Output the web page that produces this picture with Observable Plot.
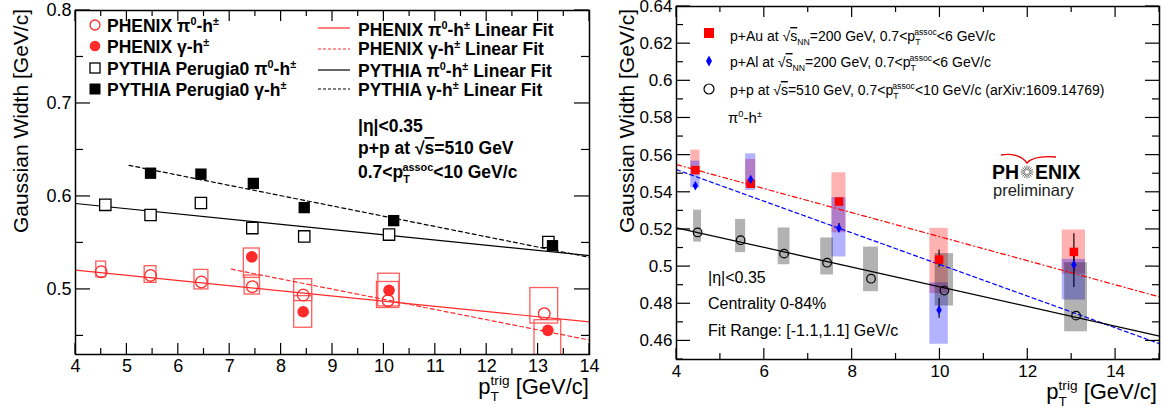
<!DOCTYPE html>
<html><head><meta charset="utf-8">
<script src="https://cdn.jsdelivr.net/npm/d3@7"></script>
<script src="https://cdn.jsdelivr.net/npm/@observablehq/plot@0.6"></script>
<style>
body{margin:0;background:#fff}
#wrap{position:relative;width:1164px;height:408px;overflow:hidden;background:#fff}
#wrap svg{position:absolute;top:0}
</style></head><body><div id="wrap"></div>
<script>
// ---------------- LEFT PANEL DATA ----------------
const pythiaGammaX = [5.46, 6.44, 7.46, 8.45, 10.19, 13.28];
const pythiaGammaY = [0.625, 0.624, 0.614, 0.588, 0.574, 0.547];
const pythiaPi0X = [4.58, 5.46, 6.44, 7.44, 8.45, 10.10, 13.20];
const pythiaPi0Y = [0.591, 0.580, 0.593, 0.566, 0.557, 0.559, 0.551];
const pythiaPi0ErrLo = [0.589, 0.578, 0.591, 0.564, 0.555, 0.557, 0.546];
const pythiaPi0ErrHi = [0.593, 0.582, 0.595, 0.568, 0.559, 0.561, 0.556];
const phenixPi0X = [4.50, 5.46, 6.45, 7.44, 8.43, 10.08, 13.12];
const phenixPi0Y = [0.519, 0.515, 0.508, 0.503, 0.494, 0.488, 0.474];
const phenixPi0SysLo = [0.513, 0.507, 0.500, 0.4945, 0.4874, 0.480, 0.4633];
const phenixPi0SysHi = [0.530, 0.525, 0.521, 0.515, 0.511, 0.508, 0.5015];
const phenixPi0BinHalf = [0.095, 0.115, 0.135, 0.15, 0.175, 0.215, 0.27];
const phenixGammaX = [7.43, 8.43, 10.10, 13.19];
const phenixGammaY = [0.535, 0.476, 0.499, 0.456];
const phenixGammaSysLo = [0.5124, 0.4588, 0.4817, 0.425];
const phenixGammaSysHi = [0.5440, 0.4928, 0.5169, 0.4669];
const phenixGammaBinHalf = [0.155, 0.175, 0.21, 0.26];
// linear fits (end points)
const fitPhenixPi0X = [4, 14], fitPhenixPi0Y = [0.5207, 0.465];
const fitPhenixGammaX = [7.03, 14], fitPhenixGammaY = [0.5218, 0.4455];
const fitPythiaPi0X = [4, 14], fitPythiaPi0Y = [0.5924, 0.5364];
const fitPythiaGammaX = [5.04, 14], fitPythiaGammaY = [0.6335, 0.5345];
const leftXTicks = [4, 5, 6, 7, 8, 9, 10, 11, 12, 13, 14];
const leftXMinor = [4.5, 5.5, 6.5, 7.5, 8.5, 9.5, 10.5, 11.5, 12.5, 13.5];
const leftYTicks = [0.5, 0.6, 0.7, 0.8];
const leftYMinor = [0.45, 0.55, 0.65, 0.75];

// ---------------- RIGHT PANEL DATA ----------------
const pAuX = [4.43, 5.69, 7.70, 9.98, 13.05];
const pAuY = [0.5519, 0.5446, 0.5350, 0.5038, 0.5079];
const pAuErrLo = [0.5505, 0.5432, 0.5335, 0.4995, 0.4980];
const pAuErrHi = [0.5533, 0.5460, 0.5365, 0.5089, 0.5177];
const pAuSysLo = [0.5496, 0.5424, 0.5182, 0.4855, 0.4960];
const pAuSysHi = [0.5627, 0.5577, 0.5505, 0.5206, 0.5197];
const pAuBinHalf = [0.105, 0.115, 0.16, 0.21, 0.265];
const pAlX = [4.43, 5.69, 7.70, 9.98, 13.05];
const pAlY = [0.5435, 0.5469, 0.5206, 0.4766, 0.5010];
const pAlErrLo = [0.5422, 0.5456, 0.5186, 0.4722, 0.4887];
const pAlErrHi = [0.5448, 0.5482, 0.5232, 0.4829, 0.5085];
const pAlSysLo = [0.5424, 0.5410, 0.5052, 0.4582, 0.4820];
const pAlSysHi = [0.5568, 0.5607, 0.5371, 0.4913, 0.5039];
const pAlBinHalf = [0.105, 0.115, 0.16, 0.21, 0.265];
const ppX = [4.48, 5.46, 6.45, 7.43, 8.43, 10.10, 13.10];
const ppY = [0.5184, 0.5142, 0.5070, 0.5021, 0.4935, 0.4871, 0.4736];
const ppSysLo = [0.5132, 0.5075, 0.5010, 0.4955, 0.4865, 0.4788, 0.4649];
const ppSysHi = [0.5304, 0.5254, 0.5208, 0.5154, 0.5105, 0.5070, 0.5021];
const ppBinHalf = [0.09, 0.115, 0.135, 0.145, 0.17, 0.21, 0.26];
const fitPAuX = [4, 15], fitPAuY = [0.5549, 0.4837];
const fitPAlX = [4, 15], fitPAlY = [0.5522, 0.4585];
const fitPPX = [4, 15], fitPPY = [0.5209, 0.4626];
const rightXTicks = [4, 6, 8, 10, 12, 14];
const rightXMinor = [5, 7, 9, 11, 13, 15];
const rightYTicks = [0.46, 0.48, 0.5, 0.52, 0.54, 0.56, 0.58, 0.6, 0.62, 0.64];
const rightYMinor = [0.45, 0.47, 0.49, 0.51, 0.53, 0.55, 0.57, 0.59, 0.61, 0.63];

// ---------------- helpers ----------------
const FONT = "Liberation Sans, Arial, Helvetica, sans-serif";
const zip = (xs, ys, extra = {}) => xs.map((x, i) => {
  const o = {x, y: ys[i]};
  for (const k in extra) o[k] = extra[k][i];
  return o;
});
function frameTicks(chart, xMaj, xMin, yMaj, yMin, L) {
  const sx = chart.scale("x"), sy = chart.scale("y");
  const [xl, xr] = sx.range, [yb, yt] = sy.range;
  const g = d3.select(chart).append("g").attr("stroke", "black").attr("stroke-width", 1.2);
  const seg = (a, b, c, d) => g.append("line").attr("x1", a).attr("y1", b).attr("x2", c).attr("y2", d);
  for (const [vals, len] of [[xMaj, L.xMaj], [xMin, L.xMin]])
    for (const v of vals) { const p = sx.apply(v); seg(p, yb, p, yb - len); seg(p, yt, p, yt + len); }
  for (const [vals, len] of [[yMaj, L.yMaj], [yMin, L.yMin]])
    for (const v of vals) { const p = sy.apply(v); seg(xl, p, xl + len, p); seg(xr, p, xr - len, p); }
}
function rich(parent, x, y, parts, opts = {}) {
  const size = opts.size || 16;
  const t = parent.append("text").attr("x", x).attr("y", y).attr("font-size", size)
    .attr("font-family", FONT).attr("font-weight", opts.bold ? "bold" : "normal")
    .attr("text-anchor", opts.anchor || "start").attr("fill", opts.fill || "black");
  if (opts.rotate) t.attr("transform", `rotate(${opts.rotate},${x},${y})`);
  let cur = 0, lastW = 0;
  for (const p of parts) {
    const s = typeof p === "string" ? {t: p} : p;
    let target = 0, fs = size;
    if (s.sup) { target = -0.42 * size; fs = 0.62 * size; }
    if (s.sub) { target = 0.3 * size; fs = 0.62 * size; }
    const ts = t.append("tspan").text(s.t).attr("font-size", fs).attr("dy", target - cur);
    if (s.stack) ts.attr("dx", -lastW);
    if (s.over) ts.style("text-decoration", "overline");
    cur = target;
    lastW = ts.node().getComputedTextLength();
  }
  return t;
}

const RED = "#ff2a2a", REDBOX = "#ff5c5c";
const wrap = document.getElementById("wrap");
const fmt = d => String(d);

// ---------------- LEFT PLOT ----------------
const phenixPi0Rows = zip(phenixPi0X, phenixPi0Y, {lo: phenixPi0SysLo, hi: phenixPi0SysHi, hw: phenixPi0BinHalf});
const phenixGammaRows = zip(phenixGammaX, phenixGammaY, {lo: phenixGammaSysLo, hi: phenixGammaSysHi, hw: phenixGammaBinHalf});
const left = Plot.plot({
  width: 600, height: 408, marginLeft: 75, marginRight: 11, marginTop: 10, marginBottom: 54,
  x: {domain: [4, 14]}, y: {domain: [0.43, 0.8]},
  style: {fontFamily: FONT, fontSize: "18px", background: "transparent", color: "black"},
  marks: [
    Plot.axisX({ticks: leftXTicks, tickSize: 0, tickPadding: 5, label: null, fontSize: 18, tickFormat: fmt}),
    Plot.axisY({ticks: leftYTicks, tickSize: 0, tickPadding: 4, label: null, fontSize: 18, tickFormat: fmt}),
    Plot.rect(phenixPi0Rows, {x1: d => d.x - d.hw, x2: d => d.x + d.hw, y1: "lo", y2: "hi", fill: "none", stroke: REDBOX, strokeWidth: 1.3}),
    Plot.rect(phenixGammaRows, {x1: d => d.x - d.hw, x2: d => d.x + d.hw, y1: "lo", y2: "hi", fill: "none", stroke: REDBOX, strokeWidth: 1.3, clip: true}),
    Plot.line(zip(fitPhenixPi0X, fitPhenixPi0Y), {x: "x", y: "y", stroke: RED, strokeWidth: 1.2}),
    Plot.line(zip(fitPhenixGammaX, fitPhenixGammaY), {x: "x", y: "y", stroke: RED, strokeWidth: 1.2, strokeDasharray: "4,3"}),
    Plot.line(zip(fitPythiaPi0X, fitPythiaPi0Y), {x: "x", y: "y", stroke: "black", strokeWidth: 1.2}),
    Plot.line(zip(fitPythiaGammaX, fitPythiaGammaY), {x: "x", y: "y", stroke: "black", strokeWidth: 1.2, strokeDasharray: "4,3"}),
    Plot.ruleX(zip(pythiaPi0X, pythiaPi0Y, {lo: pythiaPi0ErrLo, hi: pythiaPi0ErrHi}), {x: "x", y1: "lo", y2: "hi", stroke: "black"}),
    Plot.dot(zip(pythiaPi0X, pythiaPi0Y), {x: "x", y: "y", symbol: "square", r: 6.4, stroke: "black", strokeWidth: 1.3, fill: "white"}),
    Plot.dot(zip(pythiaGammaX, pythiaGammaY), {x: "x", y: "y", symbol: "square", r: 6.4, fill: "black"}),
    Plot.dot(phenixPi0Rows, {x: "x", y: "y", r: 5.8, stroke: RED, strokeWidth: 1.3, fill: "none"}),
    Plot.dot(phenixGammaRows, {x: "x", y: "y", r: 5.8, fill: RED}),
    Plot.frame({stroke: "black", strokeWidth: 1.5})
  ]
});
left.style.left = "0px";
wrap.appendChild(left);
frameTicks(left, leftXTicks, leftXMinor, leftYTicks, leftYMinor, {xMaj: 11, xMin: 6, yMaj: 15, yMin: 8});

// ---------------- RIGHT PLOT ----------------
const sysRows = (xs, lo, hi, hw) => xs.map((x, i) => ({x1: x - hw[i], x2: x + hw[i], lo: lo[i], hi: hi[i]}));
const right = Plot.plot({
  width: 564, height: 408, marginLeft: 76, marginRight: 5, marginTop: 6, marginBottom: 49,
  x: {domain: [4, 15]}, y: {domain: [0.45, 0.64]},
  style: {fontFamily: FONT, fontSize: "17px", background: "transparent", color: "black"},
  marks: [
    Plot.axisX({ticks: rightXTicks, tickSize: 0, tickPadding: 5, label: null, fontSize: 17, tickFormat: fmt}),
    Plot.axisY({ticks: rightYTicks, tickSize: 0, tickPadding: 4, label: null, fontSize: 17, tickFormat: fmt}),
    Plot.rect(sysRows(pAuX, pAuSysLo, pAuSysHi, pAuBinHalf), {x1: "x1", x2: "x2", y1: "lo", y2: "hi", fill: "#ff0000", fillOpacity: 0.3}),
    Plot.rect(sysRows(pAlX, pAlSysLo, pAlSysHi, pAlBinHalf), {x1: "x1", x2: "x2", y1: "lo", y2: "hi", fill: "#0000ff", fillOpacity: 0.3}),
    Plot.rect(sysRows(ppX, ppSysLo, ppSysHi, ppBinHalf), {x1: "x1", x2: "x2", y1: "lo", y2: "hi", fill: "#000000", fillOpacity: 0.3}),
    Plot.line(zip(fitPAuX, fitPAuY), {x: "x", y: "y", stroke: "#ff0000", strokeWidth: 1.2, strokeDasharray: "5,3,1,3"}),
    Plot.line(zip(fitPAlX, fitPAlY), {x: "x", y: "y", stroke: "#0000ff", strokeWidth: 1.2, strokeDasharray: "4,3"}),
    Plot.line(zip(fitPPX, fitPPY), {x: "x", y: "y", stroke: "black", strokeWidth: 1.3}),
    Plot.ruleX(zip(pAuX, pAuY, {lo: pAuErrLo, hi: pAuErrHi}), {x: "x", y1: "lo", y2: "hi", stroke: "#220000", strokeWidth: 1.2}),
    Plot.ruleX(zip(pAlX, pAlY, {lo: pAlErrLo, hi: pAlErrHi}), {x: "x", y1: "lo", y2: "hi", stroke: "#000033", strokeWidth: 1.2}),
    Plot.dot(zip(ppX, ppY), {x: "x", y: "y", r: 4.3, stroke: "black", strokeWidth: 1.2, fill: "none"}),
    Plot.dot(zip(pAuX, pAuY), {x: "x", y: "y", symbol: "square", r: 4.8, fill: "#ff0000"}),
    Plot.dot(zip(pAlX, pAlY), {x: "x", y: "y", symbol: "diamond", r: 2.9, fill: "#0000ff"}),
    Plot.frame({stroke: "black", strokeWidth: 1.5})
  ]
});
right.style.left = "600px";
wrap.appendChild(right);
frameTicks(right, rightXTicks, rightXMinor, rightYTicks, rightYMinor, {xMaj: 11, xMin: 6, yMaj: 14, yMin: 7});

// ---------------- TEXT / LEGEND OVERLAY ----------------
const ov = d3.select(wrap).append("svg").attr("width", 1164).attr("height", 408)
  .style("left", "0px").style("pointer-events", "none");

// left panel titles
rich(ov, 28, 9, ["Gaussian Width [GeV/c]"], {size: 21, anchor: "end", rotate: -90});
rich(ov, 589, 394, ["p", {t: "T", sub: true}, {t: "trig", sup: true, stack: true}, " [GeV/c]"], {size: 22, anchor: "end"});
// left legend markers
ov.append("circle").attr("cx", 95).attr("cy", 25).attr("r", 5).attr("fill", "none").attr("stroke", RED).attr("stroke-width", 1.3);
ov.append("circle").attr("cx", 95).attr("cy", 46).attr("r", 5.3).attr("fill", RED);
ov.append("rect").attr("x", 90).attr("y", 63).attr("width", 10).attr("height", 10).attr("fill", "white").attr("stroke", "black").attr("stroke-width", 1.3);
ov.append("rect").attr("x", 89.5).attr("y", 83.5).attr("width", 11).attr("height", 11).attr("fill", "black");
const LB = {size: 17.5, bold: true};
rich(ov, 107, 32, ["PHENIX π", {t: "0", sup: true}, "-h", {t: "±", sup: true}], LB);
rich(ov, 107, 53, ["PHENIX γ-h", {t: "±", sup: true}], LB);
rich(ov, 107, 75, ["PYTHIA Perugia0 π", {t: "0", sup: true}, "-h", {t: "±", sup: true}], LB);
rich(ov, 107, 96, ["PYTHIA Perugia0 γ-h", {t: "±", sup: true}], LB);
// left legend line samples
const ls = [[28, RED, null], [49, RED, "3,2"], [70, "black", null], [89, "black", "3,2"]];
for (const [yy, c, da] of ls) ov.append("line").attr("x1", 318).attr("x2", 350).attr("y1", yy).attr("y2", yy)
  .attr("stroke", c).attr("stroke-width", 1.2).attr("stroke-dasharray", da);
rich(ov, 358, 36, ["PHENIX π", {t: "0", sup: true}, "-h", {t: "±", sup: true}, " Linear Fit"], LB);
rich(ov, 358, 55, ["PHENIX γ-h", {t: "±", sup: true}, " Linear Fit"], LB);
rich(ov, 358, 77, ["PYTHIA π", {t: "0", sup: true}, "-h", {t: "±", sup: true}, " Linear Fit"], LB);
rich(ov, 358, 96, ["PYTHIA γ-h", {t: "±", sup: true}, " Linear Fit"], LB);
rich(ov, 358, 132, ["|η|<0.35"], LB);
rich(ov, 358, 154, ["p+p at √", {t: "s", over: true}, "=510 GeV"], LB);
rich(ov, 358, 178, ["0.7<p", {t: "T", sub: true}, {t: "assoc", sup: true, stack: true}, "<10 GeV/c"], LB);

// right panel titles
rich(ov, 634, 9, ["Gaussian Width [GeV/c]"], {size: 21, anchor: "end", rotate: -90});
rich(ov, 1157, 399, ["p", {t: "T", sub: true}, {t: "trig", sup: true, stack: true}, " [GeV/c]"], {size: 22, anchor: "end"});
// right legend
ov.append("rect").attr("x", 704).attr("y", 28).attr("width", 10).attr("height", 10).attr("fill", "#ff0000");
ov.append("path").attr("d", "M709,55.5 L712,61 L709,66.5 L706,61 Z").attr("fill", "#0000ff");
ov.append("circle").attr("cx", 709).attr("cy", 89).attr("r", 5).attr("fill", "none").attr("stroke", "black").attr("stroke-width", 1.2);
const RL = {size: 14};
rich(ov, 730, 41, ["p+Au at √", {t: "s", over: true}, {t: "NN", sub: true}, "=200 GeV, 0.7<p", {t: "T", sub: true}, {t: "assoc", sup: true, stack: true}, "<6 GeV/c"], RL);
rich(ov, 730, 67, ["p+Al at √", {t: "s", over: true}, {t: "NN", sub: true}, "=200 GeV, 0.7<p", {t: "T", sub: true}, {t: "assoc", sup: true, stack: true}, "<6 GeV/c"], RL);
rich(ov, 730, 95, ["p+p at √", {t: "s", over: true}, "=510 GeV, 0.7<p", {t: "T", sub: true}, {t: "assoc", sup: true, stack: true}, "<10 GeV/c (arXiv:1609.14769)"], RL);
rich(ov, 728, 123, ["π", {t: "0", sup: true}, "-h", {t: "±", sup: true}], {size: 15});
rich(ov, 708, 283, ["|η|<0.35"], {size: 16});
rich(ov, 708, 309, ["Centrality 0-84%"], {size: 16});
rich(ov, 708, 336, ["Fit Range: [-1.1,1.1] GeV/c"], {size: 16});
// PHENIX preliminary logo
rich(ov, 1019, 179, ["PH"], {size: 19.5, bold: true, anchor: "end"});
rich(ov, 1035, 179, ["ENIX"], {size: 19.5, bold: true});
const star = ov.append("g").attr("stroke", "#777").attr("stroke-width", 1);
for (let k = 0; k < 16; k++) {
  const a = k * Math.PI / 8;
  star.append("line").attr("x1", 1027 + 2 * Math.cos(a)).attr("y1", 172 + 2 * Math.sin(a))
    .attr("x2", 1027 + 6.5 * Math.cos(a)).attr("y2", 172 + 6.5 * Math.sin(a));
}
ov.append("path").attr("d", "M1001,155 C1012,153 1022,156 1027,163 C1032,157 1044,156 1056,157").attr("fill", "none").attr("stroke", "#e00").attr("stroke-width", 1.4);
rich(ov, 993, 196, ["preliminary"], {size: 16.5, fill: "#222"});
</script></body></html>
